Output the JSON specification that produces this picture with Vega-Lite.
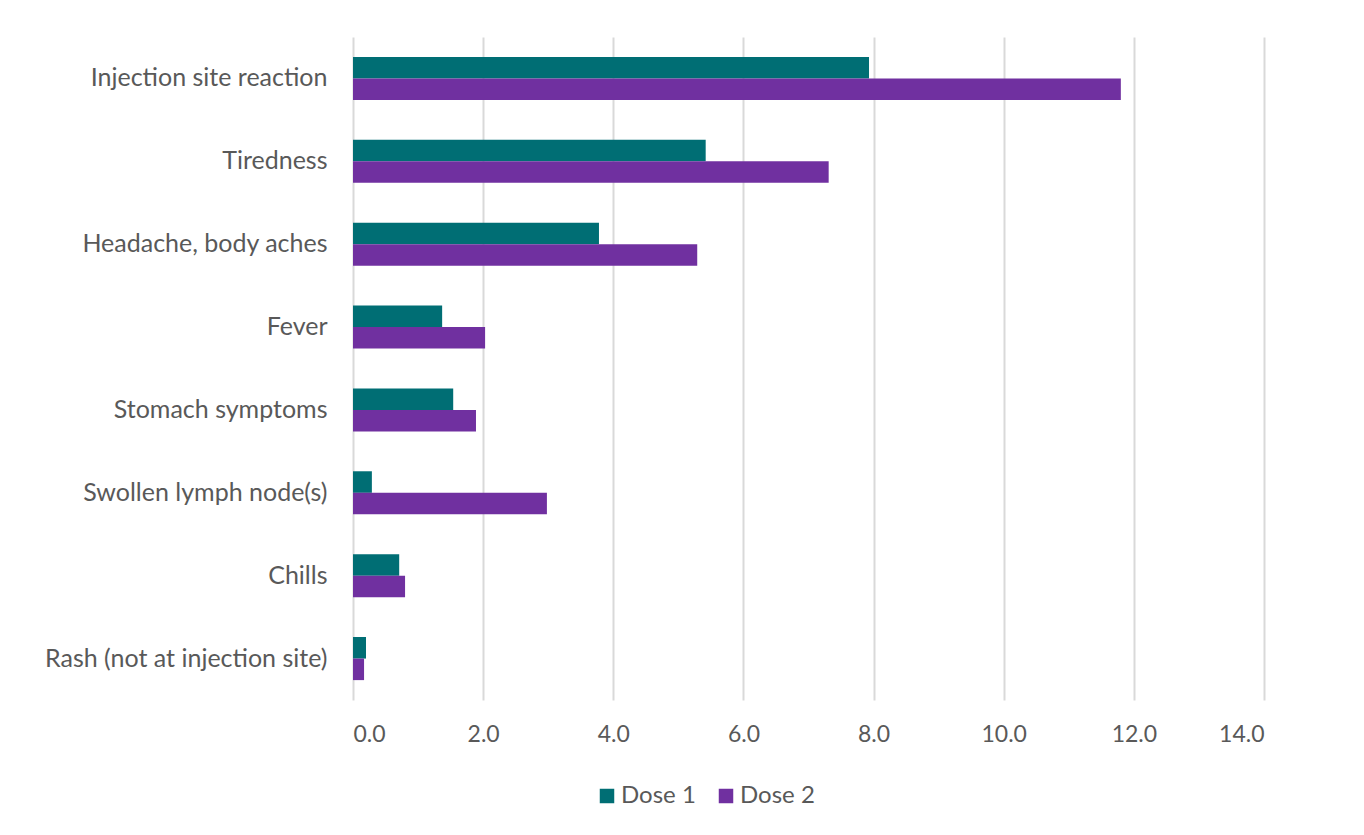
{
  "$schema": "https://vega.github.io/schema/vega-lite/v6.json",
  "width": 911,
  "height": 663,
  "autosize": {"type": "none"},
  "padding": {"left": 353, "top": 37, "right": 100, "bottom": 135},
  "background": "white",
  "config": {
    "font": "Lato",
    "view": {"stroke": null}
  },
  "data": {
    "values": [
      {"symptom": "Injection site reaction", "dose": "Dose 1", "value": 7.93},
      {"symptom": "Injection site reaction", "dose": "Dose 2", "value": 11.80},
      {"symptom": "Tiredness", "dose": "Dose 1", "value": 5.42},
      {"symptom": "Tiredness", "dose": "Dose 2", "value": 7.31},
      {"symptom": "Headache, body aches", "dose": "Dose 1", "value": 3.78},
      {"symptom": "Headache, body aches", "dose": "Dose 2", "value": 5.29},
      {"symptom": "Fever", "dose": "Dose 1", "value": 1.37},
      {"symptom": "Fever", "dose": "Dose 2", "value": 2.03},
      {"symptom": "Stomach symptoms", "dose": "Dose 1", "value": 1.54},
      {"symptom": "Stomach symptoms", "dose": "Dose 2", "value": 1.89},
      {"symptom": "Swollen lymph node(s)", "dose": "Dose 1", "value": 0.29},
      {"symptom": "Swollen lymph node(s)", "dose": "Dose 2", "value": 2.98},
      {"symptom": "Chills", "dose": "Dose 1", "value": 0.71},
      {"symptom": "Chills", "dose": "Dose 2", "value": 0.80},
      {"symptom": "Rash (not at injection site)", "dose": "Dose 1", "value": 0.20},
      {"symptom": "Rash (not at injection site)", "dose": "Dose 2", "value": 0.17}
    ]
  },
  "mark": {"type": "bar"},
  "encoding": {
    "y": {
      "field": "symptom",
      "type": "nominal",
      "sort": null,
      "scale": {"paddingInner": 0.48, "paddingOuter": 0.24},
      "axis": {
        "title": null,
        "domain": false,
        "ticks": false,
        "grid": false,
        "labelFontSize": 25,
        "labelColor": "#595959",
        "labelPadding": 26,
        "labelLimit": 400
      }
    },
    "yOffset": {"field": "dose", "type": "nominal"},
    "x": {
      "field": "value",
      "type": "quantitative",
      "scale": {"domain": [0, 14], "nice": false},
      "axis": {
        "title": null,
        "values": [0, 2, 4, 6, 8, 10, 12, 14],
        "format": ".1f",
        "domain": false,
        "ticks": false,
        "grid": true,
        "gridColor": "#D9D9D9",
        "gridWidth": 2,
        "labelFontSize": 23,
        "labelColor": "#595959",
        "labelPadding": 23
      }
    },
    "color": {
      "field": "dose",
      "type": "nominal",
      "scale": {"domain": ["Dose 1", "Dose 2"], "range": ["#006E74", "#7030A0"]},
      "legend": {
        "title": null,
        "orient": "none",
        "direction": "horizontal",
        "legendX": 242,
        "legendY": 747,
        "symbolType": "square",
        "symbolSize": 210,
        "symbolStrokeWidth": 0,
        "symbolOpacity": 1,
        "labelFontSize": 24,
        "labelColor": "#595959",
        "columnPadding": 18,
        "labelOffset": 2
      }
    }
  }
}
